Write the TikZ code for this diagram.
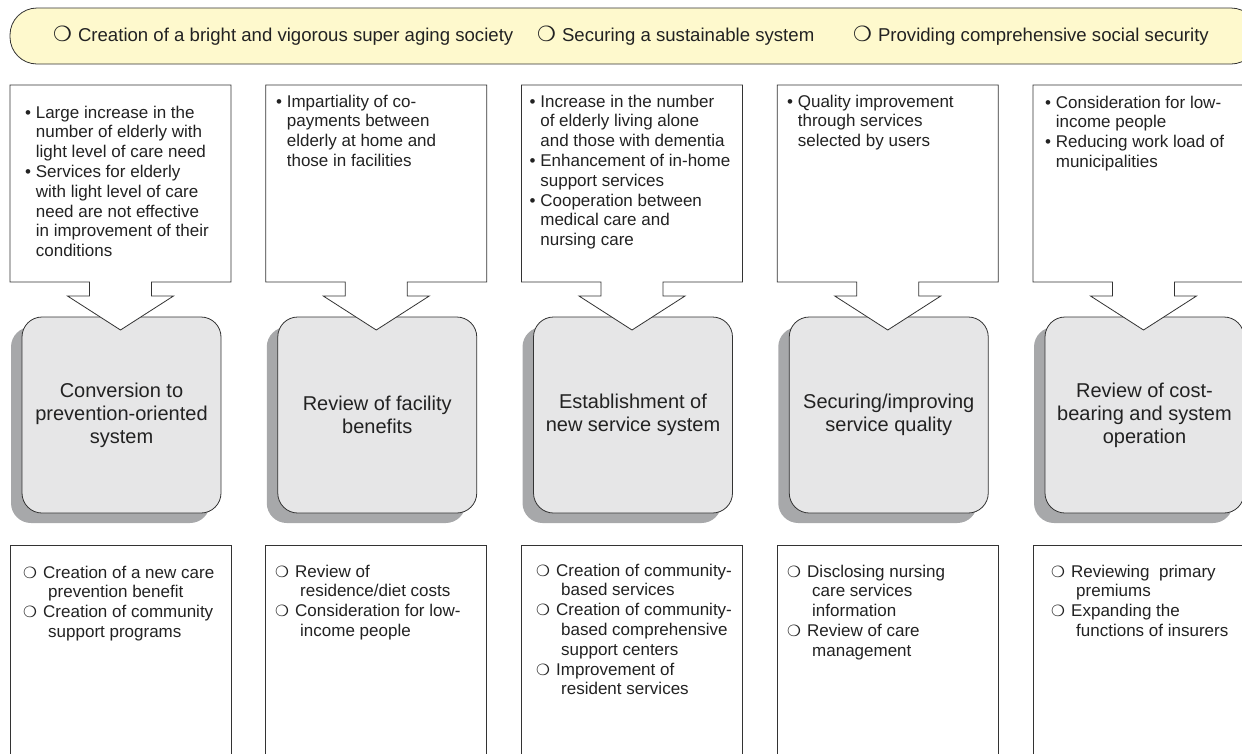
\documentclass[tikz,border=0pt]{standalone}
\usepackage{fontspec}
\setmainfont{Liberation Sans}
\newfontfamily\dejavu{DejaVu Sans}
\usetikzlibrary{shadows}

\definecolor{ink}{HTML}{222222}
\definecolor{linec}{HTML}{333333}
\definecolor{bannerfill}{HTML}{FEF9CD}
\definecolor{boxgray}{HTML}{E6E6E7}
\definecolor{shadegray}{HTML}{A7A8AA}

% ring symbols used in the banner and in the lower boxes
\newcommand\ringbig{{\dejavu\fontsize{21}{21}\selectfont ❍}}
\newcommand\ringmark{\makebox[20pt][l]{\dejavu\fontsize{15.5}{15.5}\selectfont ❍}}
\newcommand\ringind{\hspace*{25pt}}

\begin{document}
\begin{tikzpicture}[x=1pt,y=-1pt,
  every node/.style={inner sep=0pt, text=ink},
  banner/.style={draw=linec, fill=bannerfill, line width=0.8pt, rounded corners=27pt},
  bannertext/.style={anchor=base west, font=\fontsize{18.6}{22}\selectfont},
  mainbox/.style={draw=linec, fill=boxgray, line width=0.8pt, rounded corners=20pt,
    minimum width=199pt, minimum height=196pt, align=center,
    font=\fontsize{20}{23}\selectfont,
    drop shadow={shadow xshift=-11pt, shadow yshift=-10pt, fill=shadegray, opacity=1}},
  callout/.style={draw=linec, fill=white, line width=0.8pt},
  lowerbox/.style={draw=linec, fill=white, line width=0.8pt},
  listtext/.style={anchor=base west, font=\fontsize{17}{19.8}\selectfont}
]
\useasboundingbox (0,0) rectangle (1242,753);
\clip (0,0) rectangle (1242,753);

% banner with the three aims
\draw[banner] (10,8) rectangle (1258,64);
\node[bannertext] (g1) at (53,41) {\ringbig\hspace{6pt}Creation of a bright and vigorous super aging society};
\node[bannertext] (g2) at (537,41) {\ringbig\hspace{6pt}Securing a sustainable system};
\node[bannertext] (g3) at (853,41) {\ringbig\hspace{6pt}Providing comprehensive social security};

% grey reform boxes
\node[mainbox] (m1) at (121.5,415) {Conversion to\\prevention-oriented\\system};
\node[mainbox] (m2) at (377.25,415) {Review of facility\\benefits};
\node[mainbox] (m3) at (633,415) {Establishment of\\new service system};
\node[mainbox] (m4) at (888.75,415) {Securing/improving\\service quality};
\node[mainbox] (m5) at (1144.5,415) {Review of cost-\\bearing and system\\operation};

% background boxes with arrows and the measure boxes below
\foreach \k in {0,...,4}{
  \pgfmathsetmacro\L{10+255.75*\k}
  \pgfmathsetmacro\R{\L+221}
  \pgfmathsetmacro\C{\L+110.5}
  \draw[callout] (\L,85) -- (\R,85) -- (\R,282) -- (\C+31,282) -- (\C+31,296)
    -- (\C+53,296) -- (\C,330) -- (\C-53,296) -- (\C-31,296) -- (\C-31,282)
    -- (\L,282) -- cycle;
  \draw[lowerbox] (\L,545) rectangle (\R,780);
}

% background texts
\node[listtext] (t1) at (25,118) {\begin{tabular}[t]{@{}l@{\hspace{4.7pt}}l@{}}
•& Large increase in the\\ & number of elderly with\\ & light level of care need\\
•& Services for elderly\\ & with light level of care\\ & need are not effective\\
 & in improvement of their\\ & conditions\end{tabular}};
\node[listtext] (t2) at (276,107) {\begin{tabular}[t]{@{}l@{\hspace{4.7pt}}l@{}}
•& Impartiality of co-\\ & payments between\\ & elderly at home and\\ & those in facilities\end{tabular}};
\node[listtext] (t3) at (529.5,107) {\begin{tabular}[t]{@{}l@{\hspace{4.7pt}}l@{}}
•& Increase in the number\\ & of elderly living alone\\ & and those with dementia\\
•& Enhancement of in-home\\ & support services\\
•& Cooperation between\\ & medical care and\\ & nursing care\end{tabular}};
\node[listtext] (t4) at (787,107) {\begin{tabular}[t]{@{}l@{\hspace{4.7pt}}l@{}}
•& Quality improvement\\ & through services\\ & selected by users\end{tabular}};
\node[listtext] (t5) at (1045,108) {\begin{tabular}[t]{@{}l@{\hspace{4.7pt}}l@{}}
•& Consideration for low-\\ & income people\\
•& Reducing work load of\\ & municipalities\end{tabular}};

% measure texts
\node[listtext] (b1) at (23,578) {\begin{tabular}[t]{@{}l@{}}
\ringmark Creation of a new care\\ \ringind prevention benefit\\
\ringmark Creation of community\\ \ringind support programs\end{tabular}};
\node[listtext] (b2) at (275,577) {\begin{tabular}[t]{@{}l@{}}
\ringmark Review of\\ \ringind residence/diet costs\\
\ringmark Consideration for low-\\ \ringind income people\end{tabular}};
\node[listtext] (b3) at (536,576) {\begin{tabular}[t]{@{}l@{}}
\ringmark Creation of community-\\ \ringind based services\\
\ringmark Creation of community-\\ \ringind based comprehensive\\ \ringind support centers\\
\ringmark Improvement of\\ \ringind resident services\end{tabular}};
\node[listtext] (b4) at (787,577) {\begin{tabular}[t]{@{}l@{}}
\ringmark Disclosing nursing\\ \ringind care services\\ \ringind information\\
\ringmark Review of care\\ \ringind management\end{tabular}};
\node[listtext] (b5) at (1051,577) {\begin{tabular}[t]{@{}l@{}}
\ringmark Reviewing\ \ primary\\ \ringind premiums\\
\ringmark Expanding the\\ \ringind functions of insurers\end{tabular}};
\end{tikzpicture}
\end{document}
